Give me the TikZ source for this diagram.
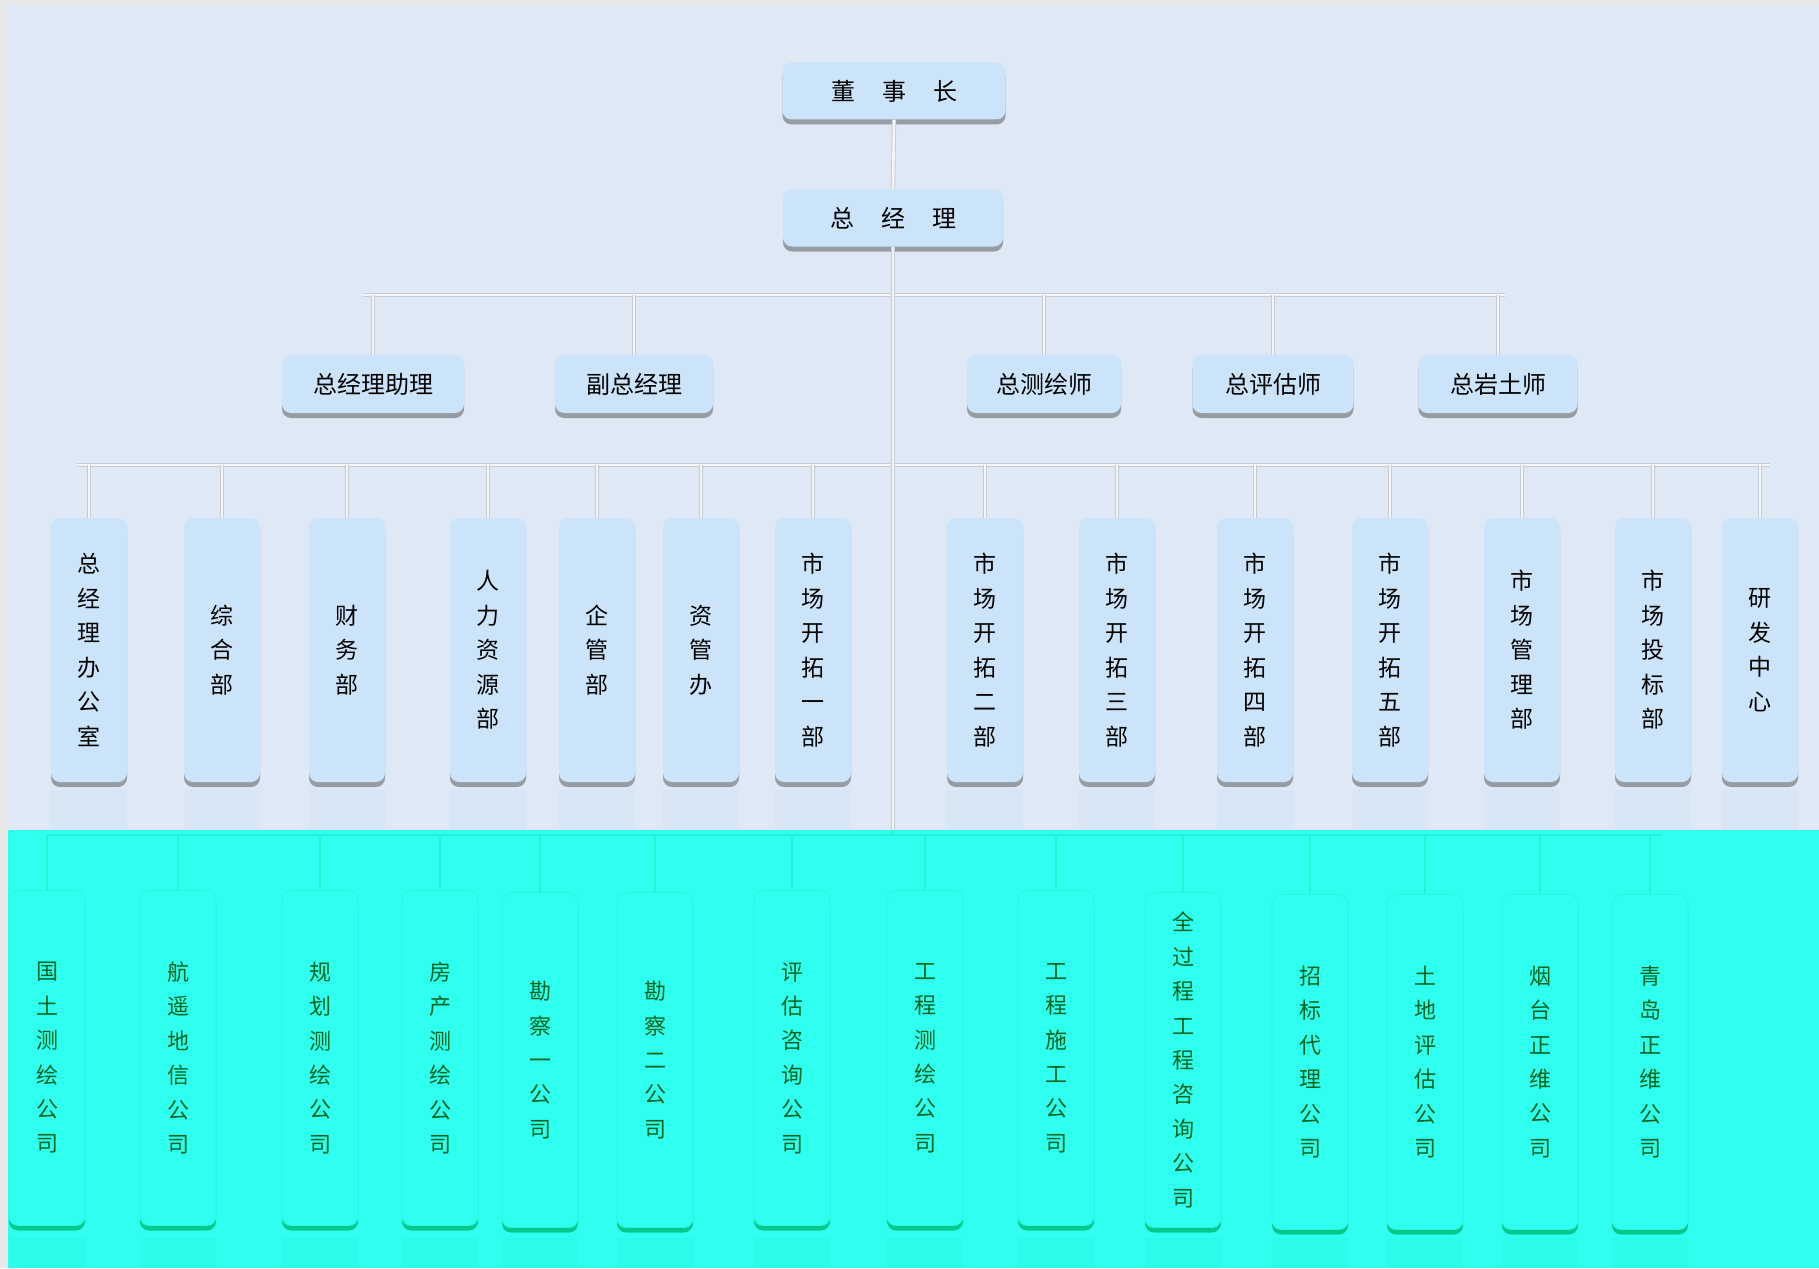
\documentclass[tikz,border=0pt]{standalone}
\usepackage{fontspec}
\newfontfamily\cjk{Noto Sans CJK SC}
\usetikzlibrary{shadows}
\definecolor{bg}{RGB}{222,233,245}
\definecolor{edge}{RGB}{232,232,232}
\definecolor{boxfill}{RGB}{204,228,249}
\definecolor{refl}{RGB}{214,229,244}
\definecolor{cyanbg}{RGB}{48,255,240}
\definecolor{cyanbox}{RGB}{46,255,238}
\definecolor{cyanedge}{RGB}{40,246,222}
\definecolor{cyanline}{RGB}{38,242,214}
\definecolor{greentext}{RGB}{0,100,30}
\definecolor{greenshadow}{RGB}{0,196,128}
\definecolor{linecol}{RGB}{244,245,246}
\definecolor{lineshade}{RGB}{198,204,212}
\tikzset{
  conn/.style={draw=linecol, line width=2.6pt,
    preaction={draw=lineshade, line width=4.4pt}},
  gconn/.style={draw=cyanline, line width=2pt},
  basebox/.style={rectangle, rounded corners=9pt, fill=boxfill, inner sep=0pt,
    align=center, text=black,
    drop shadow={shadow xshift=0pt, shadow yshift=-5pt, fill=black!75, opacity=0.45}},
  topbox/.style={basebox, minimum height=57pt,
    font=\cjk\fontsize{24}{30}\selectfont},
  midbox/.style={basebox, minimum height=58pt,
    font=\cjk\fontsize{24}{30}\selectfont},
  deptbox/.style={basebox, minimum width=76pt, minimum height=264pt,
    font=\cjk\fontsize{23}{34.5}\selectfont},
  compbox/.style={rectangle, rounded corners=9pt, fill=cyanbox, draw=cyanedge,
    line width=0.8pt, inner sep=0pt, align=center, text=greentext,
    minimum width=76pt, minimum height=335pt,
    font=\cjk\fontsize{22}{34.4}\selectfont,
    drop shadow={shadow xshift=0pt, shadow yshift=-5pt, fill=greenshadow, opacity=0.9}},
}
\begin{document}
\begin{tikzpicture}[x=1pt,y=-1pt]
\useasboundingbox (0,0) rectangle (1819,1268);
% background
\fill[bg] (0,0) rectangle (1819,1268);
\fill[edge] (0,0) rectangle (1819,5);
\fill[edge] (0,0) rectangle (8,1268);

% ---------- top levels ----------
\node[topbox, minimum width=223pt] (dsz) at (894,91) {董\hspace{27pt}事\hspace{27pt}长};
\node[topbox, minimum width=220pt] (zjl) at (893,218) {总\hspace{27pt}经\hspace{27pt}理};

\node[midbox, minimum width=182pt] (zjlzl) at (373,384) {总经理助理};
\node[midbox, minimum width=158pt] (fzjl) at (634,384) {副总经理};
\node[midbox, minimum width=154pt] (zchs) at (1044,384) {总测绘师};
\node[midbox, minimum width=161pt] (zpgs) at (1273,384) {总评估师};
\node[midbox, minimum width=159pt] (zyts) at (1498,384) {总岩土师};

% ---------- department level ----------
\foreach \nm/\xx/\tx in {
  da/89/{总\\经\\理\\办\\公\\室},
  db/222/{综\\合\\部},
  dc/347/{财\\务\\部},
  dd/488/{人\\力\\资\\源\\部},
  de/597/{企\\管\\部},
  df/701/{资\\管\\办},
  dg/813/{市\\场\\开\\拓\\一\\部},
  dh/985/{市\\场\\开\\拓\\二\\部},
  di/1117/{市\\场\\开\\拓\\三\\部},
  dj/1255/{市\\场\\开\\拓\\四\\部},
  dk/1390/{市\\场\\开\\拓\\五\\部},
  dl/1522/{市\\场\\管\\理\\部},
  dm/1653/{市\\场\\投\\标\\部},
  dn/1760/{研\\发\\中\\心}}{
  \fill[refl, opacity=0.8] (\xx-38,790) rectangle (\xx+38,830);
  \node[deptbox] (\nm) at (\xx,650) {\tx};
}

% bus coordinates
\coordinate (b2L) at (363,295);
\coordinate (b2R) at (1505,295);
\coordinate (b3L) at (77,465);
\coordinate (b3R) at (1770,465);
\coordinate (trunkEnd) at (893,830);

% connectors of the upper part
\draw[conn] (dsz.south) -- (zjl.north);
\draw[conn] (b2L) -- (b2R);
\draw[conn] (b3L) -- (b3R);
\foreach \c in {zjlzl,fzjl,zchs,zpgs,zyts}{
  \draw[conn] (\c.north) -- (\c.north |- b2L);
}
\foreach \c in {da,db,dc,dd,de,df,dg,dh,di,dj,dk,dl,dm,dn}{
  \draw[conn] (\c.north) -- (\c.north |- b3L);
}
\draw[conn] (zjl.south) -- (trunkEnd);

% ---------- cyan lower region ----------
\fill[cyanbg] (8,830) rectangle (1819,1268);

\coordinate (b4L) at (47,835);
\coordinate (b4R) at (1662,835);
\draw[gconn] (b4L) -- (b4R);
\draw[gconn] (trunkEnd) -- (trunkEnd |- b4L);

\foreach \nm/\xx/\yy/\tx in {
  ca/47/1058/{国\\土\\测\\绘\\公\\司},
  cb/178/1058/{航\\遥\\地\\信\\公\\司},
  cc/320/1058/{规\\划\\测\\绘\\公\\司},
  cd/440/1058/{房\\产\\测\\绘\\公\\司},
  ce/540/1060/{勘\\察\\一\\公\\司},
  cf/655/1060/{勘\\察\\二\\公\\司},
  cg/792/1058/{评\\估\\咨\\询\\公\\司},
  ch/925/1058/{工\\程\\测\\绘\\公\\司},
  ci/1056/1058/{工\\程\\施\\工\\公\\司},
  cj/1183/1060/{全\\过\\程\\工\\程\\咨\\询\\公\\司},
  ck/1310/1062/{招\\标\\代\\理\\公\\司},
  cl/1425/1062/{土\\地\\评\\估\\公\\司},
  cm/1540/1062/{烟\\台\\正\\维\\公\\司},
  cn/1650/1062/{青\\岛\\正\\维\\公\\司}}{
  \fill[cyanline, opacity=0.25] (\xx-38,1238) rectangle (\xx+38,1268);
  \node[compbox] (\nm) at (\xx,\yy) {\tx};
  \draw[gconn] (\nm.north) -- (\nm.north |- b4L);
}
\end{tikzpicture}
\end{document}
